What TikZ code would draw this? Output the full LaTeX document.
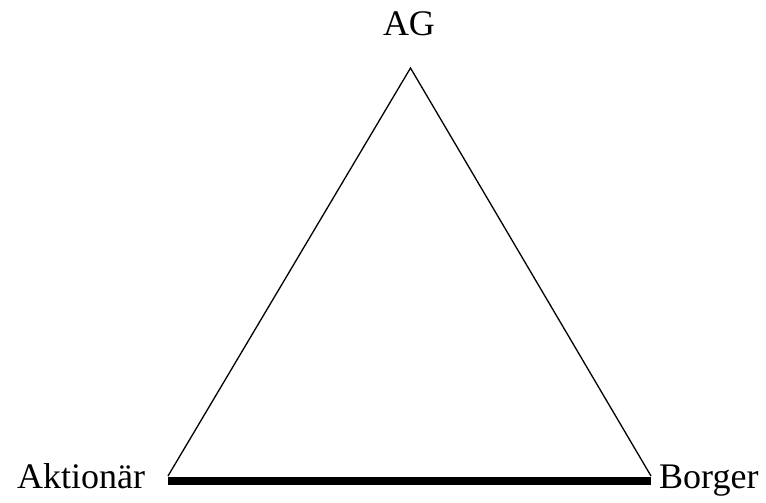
\documentclass[tikz,border=0pt]{standalone}
\usepackage{fontspec}
\setmainfont{Liberation Serif}
\usetikzlibrary{positioning}
\tikzset{
  triside/.style={draw=black,line width=1.3pt},
  tribase/.style={draw=black,line width=8pt},
  trilabel/.style={font=\fontsize{36}{40}\selectfont,inner sep=0pt,anchor=base}
}
\begin{document}
\begin{tikzpicture}[x=1pt,y=-1pt]
\useasboundingbox (0,0) rectangle (766,503);
\coordinate (top) at (410.5,68);
\coordinate (left) at (168,476);
\coordinate (right) at (651,476);
\node[trilabel] (ag) at (409,36) {AG};
\node[trilabel,anchor=base west] (akt) at (17,488) {Aktionär};
\node[trilabel,anchor=base west] (borger) at (659,488) {Borger};
\draw[triside] (left) -- (top) -- (right);
\draw[tribase] ([yshift=-4.5pt]left) -- ([yshift=-4.5pt]right);
\end{tikzpicture}
\end{document}
